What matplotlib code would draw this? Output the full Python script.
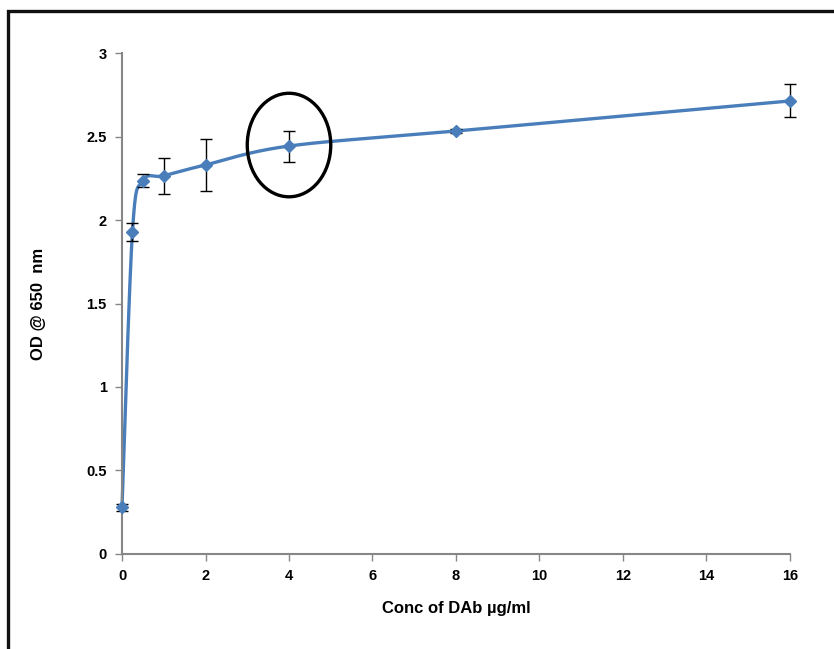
import numpy as np
import matplotlib.pyplot as plt
from matplotlib.patches import Ellipse, Rectangle

plt.rcParams["font.family"] = ["Liberation Sans", "DejaVu Sans"]
plt.rcParams["font.weight"] = "bold"

# data
conc = [0, 0.25, 0.5, 1, 2, 4, 8, 16]
od = [0.28, 1.93, 2.235, 2.265, 2.33, 2.443, 2.533, 2.713]
err = [0.02, 0.055, 0.04, 0.108, 0.155, 0.093, 0.01, 0.099]
xticks = [0, 2, 4, 6, 8, 10, 12, 14, 16]
yticks = [0, 0.5, 1, 1.5, 2, 2.5, 3]

blue = "#4a7ebb"
grey = "#868686"

fig = plt.figure(figsize=(8.34, 6.49), dpi=100)
ax = fig.add_axes([0.1463, 0.1464, 0.8009, 0.7719])
ax.set_xlim(0, 16)
ax.set_ylim(0, 3)

# outer chart border (right and bottom are cropped off in the original)
fig.patches.append(Rectangle((7.5 / 834, -0.1), 1.2, 1.1 - 11.5 / 649,
                             transform=fig.transFigure, fill=False,
                             edgecolor="#111111", lw=2.4))


def smooth(ax, xs, ys, n=40):
    """Excel-like smoothed line: Catmull-Rom bezier in screen space."""
    pts = ax.transData.transform(np.column_stack([xs, ys]))
    p = np.vstack([pts[0], pts, pts[-1]])
    out = []
    t = np.linspace(0, 1, n)[:, None]
    for i in range(1, len(p) - 2):
        p0, p1, p2, p3 = p[i - 1], p[i], p[i + 1], p[i + 2]
        c1 = p1 + (p2 - p0) / 6
        c2 = p2 - (p3 - p1) / 6
        seg = ((1 - t) ** 3) * p1 + 3 * ((1 - t) ** 2) * t * c1 \
            + 3 * (1 - t) * t ** 2 * c2 + t ** 3 * p2
        out.append(seg)
    out = np.vstack(out)
    return ax.transData.inverted().transform(out)


curve = smooth(ax, conc, od)
ax.plot(curve[:, 0], curve[:, 1], color=blue, lw=2.4, zorder=2, clip_on=False)
eb = ax.errorbar(conc, od, yerr=err, fmt="none", ecolor="black", elinewidth=1,
                 capsize=4, capthick=1, zorder=3)
for art in eb.lines[1] + eb.lines[2]:
    art.set_clip_on(False)
ax.plot(conc, od, linestyle="None", marker="D", markersize=6.5,
        color=blue, zorder=4, clip_on=False)

ax.add_patch(Ellipse((4.0, 2.449), 2.0, 0.62, fill=False,
                     edgecolor="black", lw=2.4, zorder=5))

for s in ["top", "right"]:
    ax.spines[s].set_visible(False)
for s in ["left", "bottom"]:
    ax.spines[s].set_color(grey)
    ax.spines[s].set_linewidth(1.5)

ax.set_xticks(xticks)
ax.set_xticklabels([str(v) for v in xticks])
ax.set_yticks(yticks)
ax.set_yticklabels(["0", "0.5", "1", "1.5", "2", "2.5", "3"])
ax.tick_params(direction="out", length=5, width=1, color=grey,
               labelsize=10.5, pad=6)
for lab in ax.get_xticklabels() + ax.get_yticklabels():
    lab.set_fontweight("bold")

ax.set_xlabel("Conc of DAb µg/ml", fontsize=12, fontweight="bold", labelpad=13)
ax.set_ylabel("OD @ 650  nm", fontsize=12, fontweight="bold", labelpad=29)

fig.savefig("out.png", dpi=100)
